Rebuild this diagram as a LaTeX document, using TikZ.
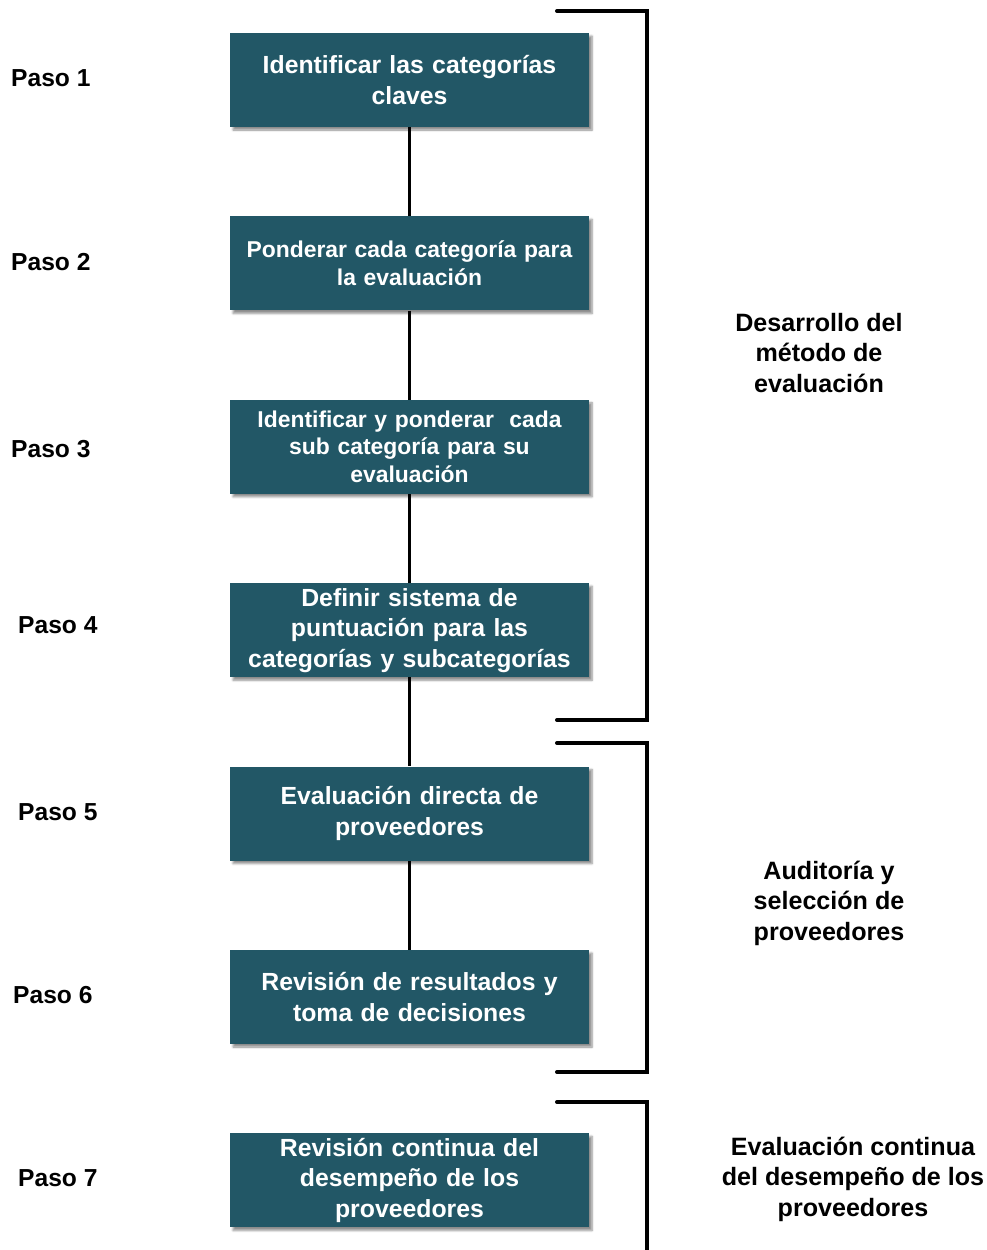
\documentclass[tikz,border=0pt]{standalone}
\usepackage{fontspec}
\setmainfont{Liberation Sans}
\usepackage{xcolor}
\usetikzlibrary{positioning, shadows.blur}
\definecolor{boxteal}{RGB}{34, 87, 102}
\tikzset{
    stepbox/.style={rectangle, fill=boxteal, minimum width=359pt,
                    minimum height=94pt, inner sep=0pt, text width=350pt,
                    align=center, text=white, font=\bfseries\fontsize{24.8}{30.5}\selectfont,
                    blur shadow={shadow xshift=3pt, shadow yshift=-3pt,
                                 shadow blur steps=6, shadow opacity=45}},
    smalltxt/.style={font=\bfseries\fontsize{22.9}{27.5}\selectfont},
    paso/.style={anchor=west, inner sep=0pt, font=\bfseries\fontsize{24.6}{26}\selectfont},
    phase/.style={align=center, inner sep=0pt, font=\bfseries\fontsize{25.1}{30.5}\selectfont},
    link/.style={line width=3.5pt},
    brack/.style={line width=4pt, line cap=round, line join=miter},
}

\begin{document}
\begin{tikzpicture}[x=1pt, y=-1pt, node distance=89pt]
    \useasboundingbox (0,0) rectangle (987,1250);

    % pasos del proceso
    \node[stepbox] (b1) at (409.5,80) {Identificar las categorías\\claves};
    \node[stepbox, smalltxt, below=of b1] (b2) {Ponderar cada categoría para\\la evaluación};
    \node[stepbox, smalltxt, below=of b2] (b3) {Identificar y ponderar\ \ cada\\sub categoría para su\\evaluación};
    \node[stepbox, below=of b3] (b4) {Definir sistema de\\puntuación para las\\categorías y subcategorías};
    \node[stepbox, below=of b4] (b5) {Evaluación directa de\\proveedores};
    \node[stepbox, below=of b5] (b6) {Revisión de resultados y\\toma de decisiones};
    \node[stepbox, below=of b6] (b7) {Revisión continua del\\desempeño de los\\proveedores};

    \node[paso] (p1) at (11,78) {Paso 1};
    \node[paso] (p2) at (11,262) {Paso 2};
    \node[paso] (p3) at (11,449) {Paso 3};
    \node[paso] (p4) at (18,625) {Paso 4};
    \node[paso] (p5) at (18,812) {Paso 5};
    \node[paso] (p6) at (13,995) {Paso 6};
    \node[paso] (p7) at (18,1178) {Paso 7};

    \draw[link] (b1) -- (b2);
    \draw[link] (b2) -- (b3);
    \draw[link] (b3) -- (b4);
    \draw[link] (b4) -- (b5);
    \draw[link] (b5) -- (b6);

    % llaves de las fases
    \coordinate (k1a) at (557,11);  \coordinate (k1b) at (557,720);
    \coordinate (k2a) at (557,743); \coordinate (k2b) at (557,1072);
    \coordinate (k3a) at (557,1102); \coordinate (k3b) at (647,1252);
    \draw[brack] (k1a) -- ++(90,0) |- (k1b);
    \draw[brack] (k2a) -- ++(90,0) |- (k2b);
    \draw[brack] (k3a) -| (k3b);

    \node[phase] (f1) at (819,353) {Desarrollo del\\método de\\evaluación};
    \node[phase] (f2) at (829,903) {Auditoría y\\selección de\\proveedores};
    \node[phase] (f3) at (853,1179) {Evaluación continua\\del desempeño de los\\proveedores};
\end{tikzpicture}
\end{document}
